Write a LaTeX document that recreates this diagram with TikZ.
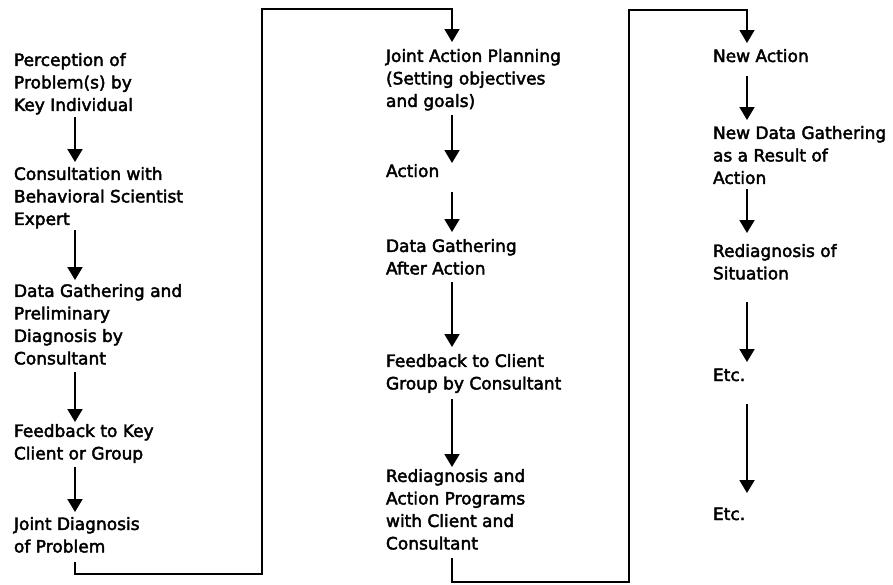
\documentclass[tikz,border=0pt]{standalone}
\usepackage{fontspec}
\setmainfont{DejaVu Sans}[BoldFont={DejaVu Sans},BoldFeatures={FakeBold=2.5}]
\usetikzlibrary{arrows.meta}
\begin{document}
\begin{tikzpicture}[x=1pt,y=-1pt,
  txt/.style={anchor=north west, inner sep=0pt, outer sep=0pt, align=left,
    font=\fontsize{17}{22.5}\selectfont\bfseries,
    execute at begin node={\rule{0pt}{13pt}},
    execute at end node={\rule[-4.5pt]{0pt}{4.5pt}}},
  arr/.style={line width=1.9pt, -{Triangle[length=13pt,width=15pt]}},
  conn/.style={line width=1.6pt, -{Triangle[length=13pt,width=15pt]}}]
\fill[white] (0,0) rectangle (893,584);
\useasboundingbox (0,0) rectangle (893,584);
\coordinate (x1) at (75,0);
\coordinate (x2) at (452,0);
\coordinate (x3) at (747,0);
% column 1
\node[txt] (P) at (14,53) {Perception of\\Problem(s) by\\Key Individual};
\node[txt] (C) at (14,167) {Consultation with\\Behavioral Scientist\\Expert};
\node[txt] (D) at (14,284) {Data Gathering and\\Preliminary\\Diagnosis by\\Consultant};
\node[txt] (F) at (14,424) {Feedback to Key\\Client or Group};
\node[txt] (J) at (14,517) {Joint Diagnosis\\of Problem};
% column 2
\node[txt] (JA) at (386,49) {Joint Action Planning\\(Setting objectives\\and goals)};
\node[txt] (A) at (386,164) {Action};
\node[txt] (DG) at (386,239) {Data Gathering\\After Action};
\node[txt] (FC) at (386,354) {Feedback to Client\\Group by Consultant};
\node[txt] (R) at (386,469) {Rediagnosis and\\Action Programs\\with Client and\\Consultant};
% column 3
\node[txt] (NA) at (713,49) {New Action};
\node[txt] (ND) at (713,126) {New Data Gathering\\as a Result of\\Action};
\node[txt] (RS) at (713,244) {Rediagnosis of\\Situation};
\node[txt] (E1) at (713,368) {Etc.};
\node[txt] (E2) at (713,507) {Etc.};
% corners of the connectors
\coordinate (b1) at (262,574);
\coordinate (t1) at (262,9);
\coordinate (b2) at (629,582);
\coordinate (t2) at (629,10);
% arrows column 1
\draw[arr, shorten <=2pt, shorten >=5pt] (P.south -| x1) -- (C.north -| x1);
\draw[arr, shorten <=1pt, shorten >=4pt] (C.south -| x1) -- (D.north -| x1);
\draw[arr, shorten <=3pt, shorten >=2pt] (D.south -| x1) -- (F.north -| x1);
\draw[arr, shorten <=3pt, shorten >=5pt] (F.south -| x1) -- (J.north -| x1);
% connector 1 -> 2
\draw[conn, shorten <=5.5pt, shorten >=7pt] (J.south -| x1) |- (b1) -- (t1) -| (JA.north -| x2);
% arrows column 2
\draw[arr, shorten <=4pt, shorten >=1pt] (JA.south -| x2) -- (A.north -| x2);
\draw[arr, shorten <=10.5pt, shorten >=7pt] (A.south -| x2) -- (DG.north -| x2);
\draw[arr, shorten <=3.5pt, shorten >=7pt] (DG.south -| x2) -- (FC.north -| x2);
\draw[arr, shorten <=5.5pt, shorten >=2pt] (FC.south -| x2) -- (R.north -| x2);
% connector 2 -> 3
\draw[conn, shorten <=4.5pt, shorten >=6pt] (R.south -| x2) |- (b2) -- (t2) -| (NA.north -| x3);
% arrows column 3
\draw[arr, shorten <=9.5pt, shorten >=6pt] (NA.south -| x3) -- (ND.north -| x3);
\draw[arr, shorten <=1pt, shorten >=11pt] (ND.south -| x3) -- (RS.north -| x3);
\draw[arr, shorten <=18.5pt, shorten >=6pt] (RS.south -| x3) -- (E1.north -| x3);
\draw[arr, shorten <=18.5pt, shorten >=14pt] (E1.south -| x3) -- (E2.north -| x3);
\end{tikzpicture}
\end{document}
